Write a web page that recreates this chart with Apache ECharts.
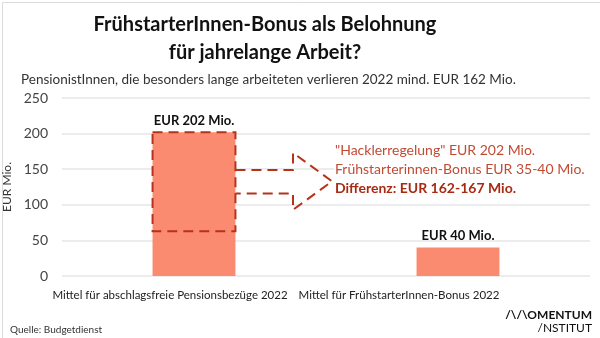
<!DOCTYPE html>
<html><head><meta charset="utf-8">
<script src="https://cdn.jsdelivr.net/npm/echarts@6/dist/echarts.min.js"></script>
<style>html,body{margin:0;padding:0;background:#fff}#c{width:600px;height:338px}</style>
</head><body><div id="c"></div>
<script>
const categories = ['Mittel für abschlagsfreie Pensionsbezüge 2022', 'Mittel für FrühstarterInnen-Bonus 2022'];
const values = [202, 40];
const valueLabels = ['EUR 202 Mio.', 'EUR 40 Mio.'];
const yTicks = [0, 50, 100, 150, 200, 250];
// dashed annotation box on first bar: [top, bottom]
const boxRange = [202, 63];
// arrow: shaft upper/lower, head top/bottom, tip
const arrowVals = {shaftTop: 149, shaftBottom: 116, headTop: 173, headBottom: 93, tip: 133};
const noteLines = ['"Hacklerregelung" EUR 202 Mio.', 'Frühstarterinnen-Bonus EUR 35-40 Mio.', 'Differenz: EUR 162-167 Mio.'];

const FONT = 'Lato, "Noto Sans", sans-serif';
const chart = echarts.init(document.getElementById('c'));
const BARW = 0.314;

chart.setOption({
  animation: false,
  backgroundColor: '#fff',
  title: [
    {text: 'FrühstarterInnen-Bonus als Belohnung\nfür jahrelange Arbeit?', left: 260, top: 6, textAlign: 'center',
     textStyle: {fontFamily: FONT, fontSize: 20, fontWeight: 'bold', color: '#111', lineHeight: 28}},
    {text: 'PensionistInnen, die besonders lange arbeiteten verlieren 2022 mind. EUR 162 Mio.', left: 16, top: 68,
     textStyle: {fontFamily: FONT, fontSize: 13.5, fontWeight: 'normal', color: '#333'}},
    {text: 'Quelle: Budgetdienst', left: 5, top: 320, textStyle: {fontFamily: FONT, fontSize: 10, fontWeight: 'normal', color: '#333'}}
  ],
  grid: {left: 62, right: 10, top: 98, bottom: 62, outerBoundsMode: 'none', containLabel: false},
  xAxis: {
    type: 'category', data: categories,
    axisLine: {show: false}, axisTick: {show: false},
    axisLabel: {
      interval: 0, margin: 13, fontFamily: FONT, fontSize: 11.5, color: '#222',
      formatter: function (v, i) { return i === 0 ? '{a|' + v + '}' : '{b|' + v + '}'; },
      rich: {
        a: {fontFamily: FONT, fontSize: 11.5, color: '#222', padding: [0, 48, 0, 0]},
        b: {fontFamily: FONT, fontSize: 11.5, color: '#222', padding: [0, 118, 0, 0]}
      }
    }
  },
  yAxis: {
    type: 'value', min: 0, max: 250, interval: 50,
    name: 'EUR Mio.', nameLocation: 'middle', nameGap: 42, nameRotate: 90,
    nameTextStyle: {fontFamily: FONT, fontSize: 12, color: '#333'},
    axisLabel: {fontFamily: FONT, fontSize: 14, color: '#444', margin: 14,
      formatter: function (v) { return yTicks.indexOf(v) >= 0 ? String(v) : ''; }},
    splitLine: {lineStyle: {color: '#e6e6e6', width: 1.5}},
    axisLine: {show: false}, axisTick: {show: false}
  },
  series: [
    {
      type: 'bar', data: values, barWidth: (BARW * 100) + '%',
      itemStyle: {color: '#FB8B70'},
      label: {show: true, position: 'top', distance: 5, fontFamily: FONT, fontSize: 13, fontWeight: 'bold', color: '#111',
        formatter: function (p) { return valueLabels[p.dataIndex]; }}
    },
    {
      type: 'custom', z: 5,
      data: [[0, boxRange[0], boxRange[1]]],
      renderItem: function (params, api) {
        const band = api.size([1, 0])[0];
        const c = api.coord([0, 0])[0];
        const xl = c - band * BARW / 2, xr = c + band * BARW / 2;
        const yT = api.coord([0, api.value(1)])[1];
        const yB = api.coord([0, api.value(2)])[1];
        const ys = v => api.coord([0, v])[1];
        const xShaft = c + band * 0.375, xTip = c + band * 0.523;
        const style = {stroke: '#B8321B', fill: null, lineWidth: 2, lineDash: [10, 6]};
        return {type: 'group', children: [
          {type: 'rect', shape: {x: xl, y: yT, width: xr - xl, height: yB - yT}, style: style},
          {type: 'polyline', shape: {points: [
            [xr, ys(arrowVals.shaftTop)], [xShaft, ys(arrowVals.shaftTop)], [xShaft, ys(arrowVals.headTop)],
            [xTip, ys(arrowVals.tip)], [xShaft, ys(arrowVals.headBottom)], [xShaft, ys(arrowVals.shaftBottom)],
            [xr, ys(arrowVals.shaftBottom)]]}, style: style}
        ]};
      }
    }
  ],
  graphic: [
    {type: 'rect', left: 334, top: 141, shape: {width: 258, height: 60}, style: {fill: '#fff'}, z: 10},
    {type: 'text', left: 335, top: 143, z: 11, style: {text: noteLines[0], font: '14px ' + FONT, fill: '#C24B34'}},
    {type: 'text', left: 335, top: 162, z: 11, style: {text: noteLines[1], font: '14px ' + FONT, fill: '#C24B34'}},
    {type: 'text', left: 335, top: 181, z: 11, style: {text: noteLines[2], font: 'bold 14px ' + FONT, fill: '#A92A12'}},
    {type: 'text', right: 8, top: 309, style: {text: '/\\/\\OMENTUM', font: 'bold 12px ' + FONT, fill: '#111', align: 'right'}},
    {type: 'text', right: 8, top: 322, style: {text: '/NSTITUT', font: '12px ' + FONT, fill: '#111', align: 'right'}},
    {type: 'rect', left: 0, top: 0, shape: {width: 599, height: 337}, style: {fill: null, stroke: '#dcdcdc', lineWidth: 1}, silent: true}
  ]
});
</script></body></html>
